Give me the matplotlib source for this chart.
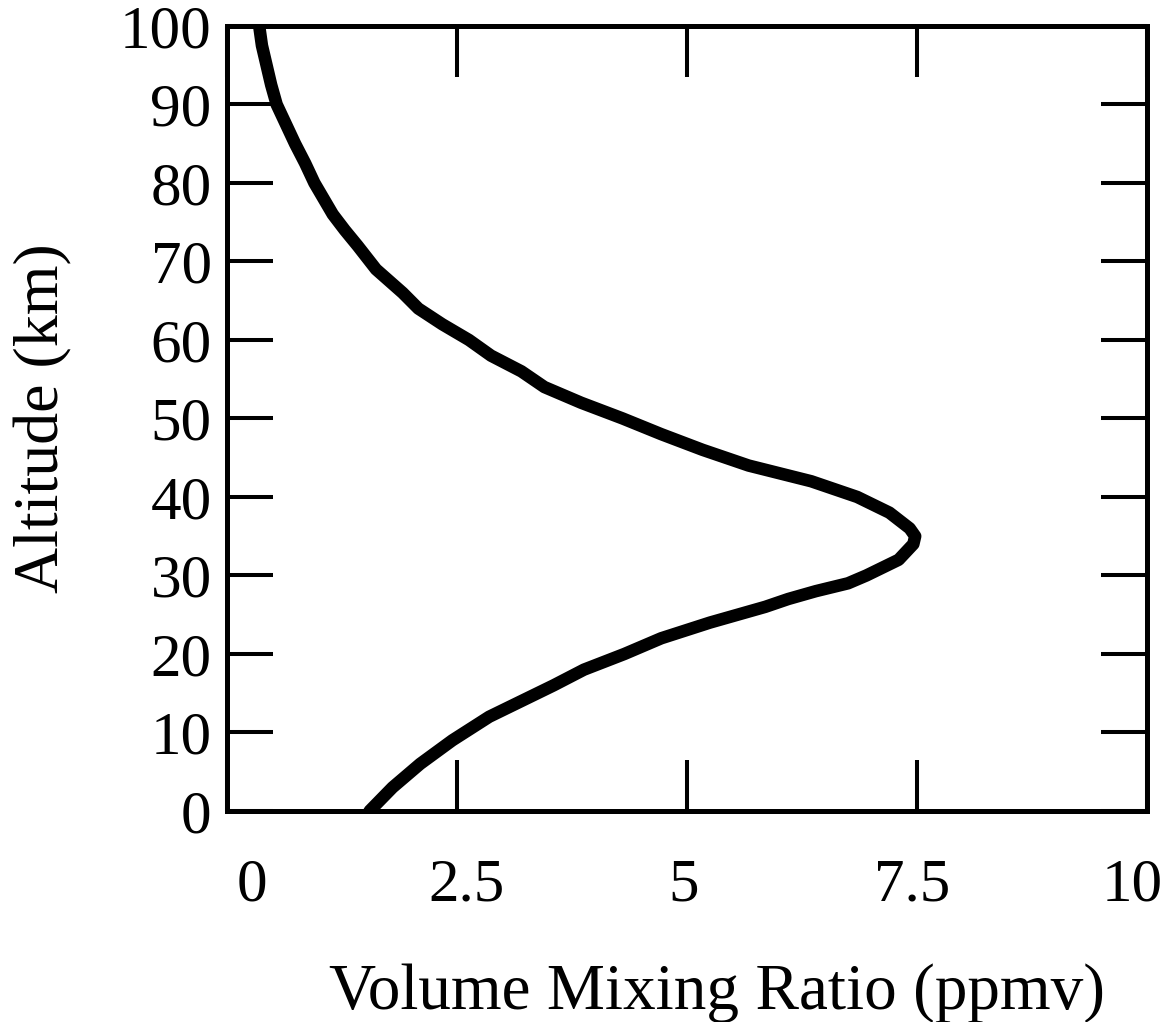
import matplotlib
matplotlib.use("Agg")
import matplotlib.pyplot as plt
from matplotlib.transforms import ScaledTranslation

# Data
altitude_km = [0, 3, 6, 9, 12, 14, 16, 18, 20, 22, 24, 26, 27, 28, 29, 30, 32, 34, 35,
               36, 38, 40, 41, 42, 44, 46, 48, 50, 52, 54, 56, 58, 60, 62, 64, 66, 69,
               72, 74, 76, 78, 80, 82.5, 85, 87.5, 90, 92.5, 95, 97.5, 100]
vmr_ppmv = [1.55, 1.8, 2.1, 2.45, 2.85, 3.2, 3.55, 3.88, 4.32, 4.72, 5.25, 5.85, 6.1, 6.4,
            6.75, 6.95, 7.3, 7.46, 7.48, 7.42, 7.2, 6.85, 6.6, 6.35, 5.67, 5.17, 4.72,
            4.3, 3.85, 3.45, 3.2, 2.87, 2.63, 2.34, 2.08, 1.91, 1.62, 1.42, 1.28, 1.15,
            1.05, 0.95, 0.85, 0.74, 0.64, 0.54, 0.48, 0.43, 0.38, 0.35]

x_ticks = [0, 2.5, 5, 7.5, 10]
x_ticklabels = ["0", "2.5", "5", "7.5", "10"]
y_ticks = list(range(0, 101, 10))

plt.rcParams['font.family'] = ['Liberation Serif', 'DejaVu Serif']

fig = plt.figure(figsize=(11.67, 10.22), dpi=100)
ax = fig.add_axes([0.1945, 0.2065, 0.9829 - 0.1945, 0.9746 - 0.2065])

ax.plot(vmr_ppmv, altitude_km, color='black', lw=9, solid_capstyle='round',
        solid_joinstyle='round')

ax.set_xlim(0, 10)
ax.set_ylim(0, 100)
ax.set_xticks(x_ticks)
ax.set_xticklabels(x_ticklabels)
ax.set_yticks(y_ticks)

for s in ax.spines.values():
    s.set_linewidth(3.6)

ax.tick_params(axis='x', direction='in', length=37, width=2.9, top=True, bottom=True,
               labelsize=44, pad=34)
ax.tick_params(axis='y', direction='in', length=33, width=2.9, left=True, right=True,
               labelsize=44, pad=11)

# small horizontal shifts of the x tick labels as in the reference (pixels)
label_shifts = [25, 10, -3, -5, -15]
for lab, dx in zip(ax.get_xticklabels(), label_shifts):
    lab.set_transform(lab.get_transform() + ScaledTranslation(dx / 100, 0, fig.dpi_scale_trans))

ax.set_xlabel("Volume Mixing Ratio (ppmv)", fontsize=47, labelpad=36)
ax.xaxis.label.set_x(0.533)
ax.set_ylabel("Altitude (km)", fontsize=46, labelpad=34)

fig.savefig("out.png", dpi=100)
